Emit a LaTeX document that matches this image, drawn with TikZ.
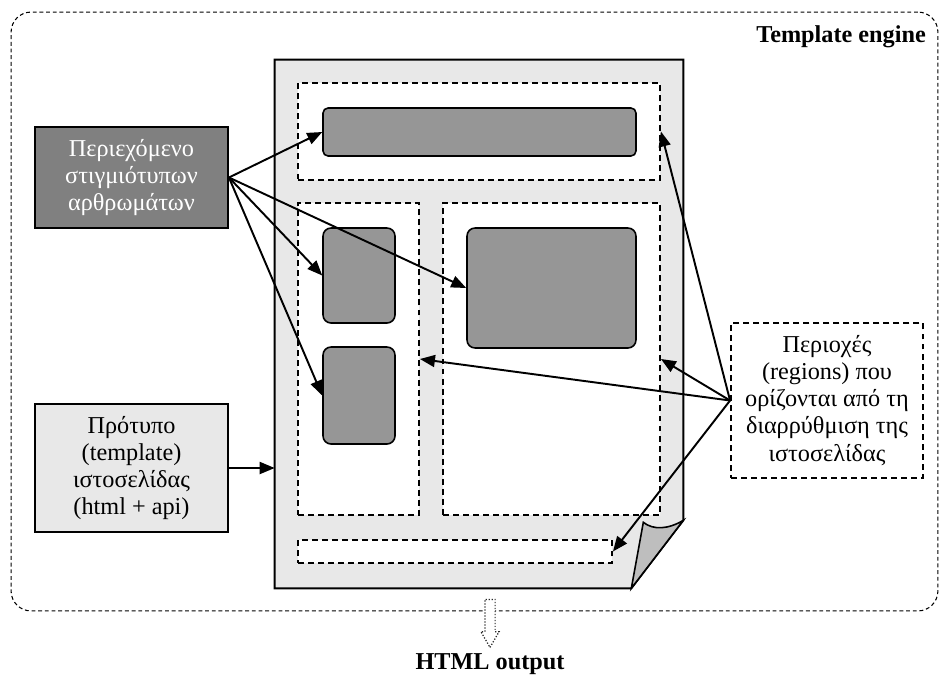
\documentclass[tikz,border=0pt]{standalone}
\usepackage{fontspec}
\setmainfont{Liberation Serif}
\usetikzlibrary{arrows.meta,shapes.arrows}

\definecolor{pagegray}{HTML}{E8E8E8}
\definecolor{blockgray}{HTML}{969696}
\definecolor{contentgray}{HTML}{808080}
\definecolor{flapgray}{HTML}{BEBEBE}

\begin{document}
\begin{tikzpicture}[
    x=0.02cm, y=-0.02cm,
    font=\fontsize{13.8pt}{15.4pt}\selectfont,
    engine/.style={rectangle, draw, line width=0.6pt, dash pattern=on 2.2pt off 1.6pt, rounded corners=0.4cm, inner sep=0},
    textbox/.style={rectangle, draw, line width=1.1pt, align=center, inner sep=0},
    region/.style={rectangle, draw, fill=white, line width=1.1pt, dash pattern=on 3.4pt off 2.3pt, inner sep=0},
    block/.style={rectangle, draw, fill=blockgray, line width=0.9pt, rounded corners=0.16cm, inner sep=0},
    arrow/.style={-{Triangle[length=0.3cm,width=0.24cm]}, line width=1.1pt}
]
\useasboundingbox (0,0) rectangle (940,677);

% Template engine frame
\node[engine, minimum width=18.54cm, minimum height=11.98cm] (engine) at (474.5,311.5) {};
\node[anchor=base east, font=\fontsize{13.8pt}{15.4pt}\selectfont\bfseries] (enginelabel) at (932,42) {Template engine};

% Web page with folded corner
\node[minimum width=8.16cm, minimum height=10.56cm, inner sep=0] (page) at (479,324) {};
\draw[fill=pagegray, line width=1.1pt] (page.north west) -- (page.north east)
    -- ([yshift=1.36cm]page.south east) -- ([xshift=-1.04cm]page.south east)
    -- (page.south west) -- cycle;

% Regions
\node[region, minimum width=7.24cm, minimum height=1.94cm] (topregion) at (479,131.5) {};
\node[region, minimum width=2.42cm, minimum height=6.24cm] (leftcol) at (358.5,359) {};
\node[region, minimum width=4.34cm, minimum height=6.24cm] (rightcol) at (551.5,359) {};
\node[region, minimum width=6.28cm, minimum height=0.46cm] (bottomregion) at (455,551.5) {};

% Content blocks
\node[block, rounded corners=0.1cm, minimum width=6.26cm, minimum height=0.96cm] (banner) at (479.5,132) {};
\node[block, minimum width=1.44cm, minimum height=1.90cm] (blockA) at (359,275.5) {};
\node[block, minimum width=1.44cm, minimum height=1.94cm] (blockB) at (359,395.5) {};
\node[block, minimum width=3.38cm, minimum height=2.40cm] (blockC) at (551.5,288) {};

% Folded corner flap
\draw[fill=flapgray, line width=0.9pt] ([xshift=-0.8cm, yshift=1.32cm]page.south east)
    .. controls ([xshift=-0.6cm, yshift=1.16cm]page.south east) and ([xshift=-0.3cm, yshift=1.18cm]page.south east)
    .. ([yshift=1.36cm]page.south east) -- ([xshift=-1.04cm]page.south east) -- cycle;

% Side boxes
\node[textbox, fill=contentgray, text=white, minimum width=3.86cm, minimum height=2.02cm] (content) at (131.5,177.5)
    {Περιεχόμενο\\στιγμιότυπων\\αρθρωμάτων};
\node[textbox, fill=pagegray, minimum width=3.86cm, minimum height=2.56cm] (tmpl) at (131.5,468)
    {Πρότυπο\\(template)\\ιστοσελίδας\\(html + api)};
\node[textbox, fill=white, dash pattern=on 3.4pt off 2.3pt, minimum width=3.84cm, minimum height=3.10cm] (regionsnote) at (827,400.5)
    {Περιοχές\\(regions) που\\ορίζονται από τη\\διαρρύθμιση της\\ιστοσελίδας};

% Content to blocks
\draw[arrow] (content.east) -- (banner.west);
\draw[arrow] (content.east) -- (blockA.west);
\draw[arrow] (content.east) -- (blockB.west);
\draw[arrow] (content.east) -- (blockC.west);

% Template to page
\draw[arrow] (tmpl.east) -- (tmpl.east -| page.west);

% Regions note to regions
\draw[arrow] (regionsnote.west) -- (topregion.east);
\draw[arrow] (regionsnote.west) -- (rightcol.east);
\draw[arrow] (regionsnote.west) -- (leftcol.east);
\draw[arrow] (regionsnote.west) -- (bottomregion.east);

% Output
\node[single arrow, shape border rotate=270, draw=black!85, densely dotted, line width=0.7pt, fill=white, inner sep=0.09cm,
      single arrow head extend=0.08cm, single arrow tip angle=60, minimum height=0.96cm] (htmlarrow) at (490,619) {};
\node[font=\fontsize{13.8pt}{15.4pt}\selectfont\bfseries] (htmloutput) at (490,664) {HTML output};

\end{tikzpicture}
\end{document}
